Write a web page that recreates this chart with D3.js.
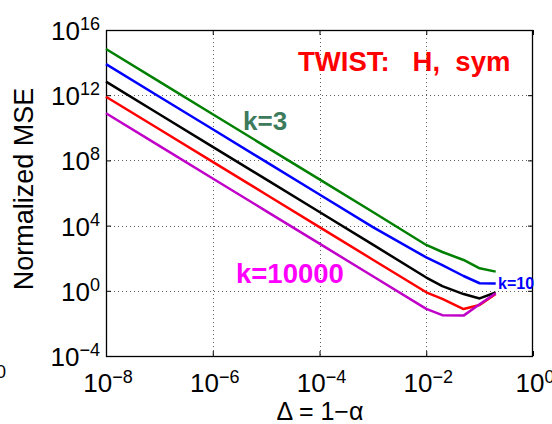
<!DOCTYPE html>
<html><head><meta charset="utf-8">
<script src="https://cdn.jsdelivr.net/npm/d3@7"></script>
<style>
body{margin:0;background:#fff}
svg{display:block}
text{font-family:"Liberation Sans",Arial,Helvetica,sans-serif}
</style>
</head><body>
<svg id="c" width="552" height="424"></svg>
<script>
// ---- data ----
const delta = [1e-8, 1e-7, 1e-6, 1e-5, 1e-4, 1e-3, 1e-2, 0.02, 0.05, 0.1, 0.2];
const seriesNames = ["k=3", "k=10", "k=100", "k=1000", "k=10000"];
const seriesColors = ["#008000", "#0000ff", "#000000", "#ff0000", "#c000c8"];
const mseK3     = [6.8e14, 6.8e12, 6.8e10, 6.8e8, 6.8e6, 6.8e4, 650, 240, 78, 24, 15];
const mseK10    = [8.1e13, 8.1e11, 8.1e9, 8.1e7, 8.1e5, 8.1e3, 112, 38, 8.1, 2.9, 2.8];
const mseK100   = [6.8e12, 6.8e10, 6.8e8, 6.8e6, 6.8e4, 680, 6.5, 1.95, 0.63, 0.34, 0.79];
const mseK1000  = [8.1e11, 8.1e9, 8.1e7, 8.1e5, 8.1e3, 81, 0.81, 0.32, 0.076, 0.135, 0.63];
const mseK10000 = [7.8e10, 7.8e8, 7.8e6, 7.8e4, 780, 7.8, 0.078, 0.032, 0.030, 0.15, 0.71];
const xTickExps = [-8, -6, -4, -2, 0];
const yTickExps = [-4, 0, 4, 8, 12, 16];
const xLabel = "\u0394 = 1\u2212\u03b1";
const yLabel = "Normalized MSE";
const titleText = "TWIST:   H,  sym";

const allSeries = [mseK3, mseK10, mseK100, mseK1000, mseK10000];

// ---- layout ----
const svg = d3.select("#c");
const L = 106, R = 533, T = 30, B = 356;
const x = d3.scaleLog().domain([1e-8, 1]).range([L, R]);
const y = d3.scaleLog().domain([1e-4, 1e16]).range([B, T]);
const xTicks = xTickExps.map(e => Math.pow(10, e));
const yTicks = yTickExps.map(e => Math.pow(10, e));

// grid
const grid = svg.append("g").attr("stroke", "#606060").attr("stroke-width", 1).attr("stroke-dasharray", "1,3");
grid.selectAll("line.gx").data(xTicks.slice(1, -1)).join("line")
  .attr("x1", d => Math.round(x(d)) + 0.5).attr("x2", d => Math.round(x(d)) + 0.5)
  .attr("y1", T).attr("y2", B);
grid.selectAll("line.gy").data(yTicks.slice(1, -1)).join("line")
  .attr("y1", d => Math.round(y(d)) + 0.5).attr("y2", d => Math.round(y(d)) + 0.5)
  .attr("x1", L).attr("x2", R);

// ticks (inside) on all four sides via d3 axes
function axisTicks(axis, tr) {
  const g = svg.append("g").attr("transform", tr).call(axis);
  g.select(".domain").remove();
  g.selectAll("text").remove();
  g.selectAll("line").attr("stroke", "#000");
}
axisTicks(d3.axisBottom(x).tickValues(xTicks).tickSize(-5), `translate(0,${B})`);
axisTicks(d3.axisTop(x).tickValues(xTicks).tickSize(-5), `translate(0,${T})`);
axisTicks(d3.axisLeft(y).tickValues(yTicks).tickSize(-5), `translate(${L},0)`);
axisTicks(d3.axisRight(y).tickValues(yTicks).tickSize(-5), `translate(${R},0)`);

// frame
svg.append("rect").attr("x", L + 0.5).attr("y", T + 0.5).attr("width", R - L - 1).attr("height", B - T)
  .attr("fill", "none").attr("stroke", "#000").attr("stroke-width", 1.3);

// series
const line = d3.line().x((d, i) => x(delta[i])).y(d => y(d));
svg.append("g").selectAll("path").data(allSeries).join("path")
  .attr("d", d => line(d))
  .attr("fill", "none")
  .attr("stroke", (d, i) => seriesColors[i])
  .attr("stroke-width", 2.5)
  .attr("stroke-linejoin", "round");

// tick labels
function pow10(sel, e, supDy) {
  sel.append("tspan").text("10");
  sel.append("tspan").attr("font-size", 18).attr("dy", supDy).text(e < 0 ? "\u2212" + (-e) : String(e));
}
svg.append("g").selectAll("text").data(xTickExps).join("text")
  .attr("x", d => x(Math.pow(10, d)) + 2).attr("y", 392)
  .attr("text-anchor", "middle").attr("font-size", 26).attr("fill", "#000")
  .each(function(d) { pow10(d3.select(this), d, -9); });
svg.append("g").selectAll("text").data(yTickExps).join("text")
  .attr("x", 100).attr("y", d => y(Math.pow(10, d)) + 10)
  .attr("text-anchor", "end").attr("font-size", 26).attr("fill", "#000")
  .each(function(d) { pow10(d3.select(this), d, -10); });

// partially visible label from neighbouring panel
svg.append("text").attr("x", 6).attr("y", 378).attr("text-anchor", "end")
  .attr("font-size", 18).text("0");

// axis labels
svg.append("text").attr("x", 320).attr("y", 420).attr("text-anchor", "middle")
  .attr("font-size", 25).text(xLabel);
svg.append("text").attr("transform", "translate(33,189) rotate(-90)").attr("text-anchor", "middle")
  .attr("font-size", 27).text(yLabel);

// annotations
svg.append("text").attr("x", 298).attr("y", 71).attr("font-size", 27.5).attr("font-weight", "bold")
  .attr("fill", "#ff0000").attr("xml:space", "preserve").style("white-space", "pre").text(titleText);
svg.append("text").attr("x", 243).attr("y", 130).attr("font-size", 26).attr("font-weight", "bold")
  .attr("fill", "#3d7b5c").text(seriesNames[0]);
svg.append("text").attr("x", 236).attr("y", 283).attr("font-size", 27.5).attr("font-weight", "bold")
  .attr("fill", "#ff00ff").text(seriesNames[4]);
svg.append("text").attr("x", 498).attr("y", 289).attr("font-size", 16).attr("font-weight", "bold")
  .attr("fill", "#0000ff").text(seriesNames[1]);
</script>
</body></html>
